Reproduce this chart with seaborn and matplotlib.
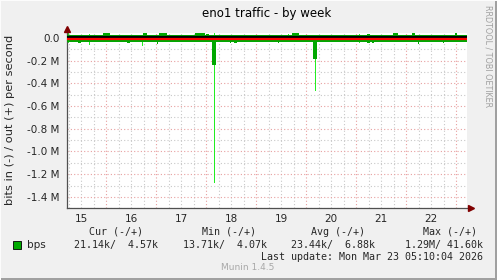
import matplotlib
matplotlib.use("Agg")
import matplotlib.pyplot as plt
import pandas as pd
import seaborn as sns

# ---------------- data ----------------
title = "eno1 traffic - by week"
ylabel = "bits in (-) / out (+) per second"
side_text = "RRDTOOL / TOBI OETIKER"
footer = "Munin 1.4.5"
last_update = "Last update: Mon Mar 23 05:10:04 2026"

day_labels = ["15", "16", "17", "18", "19", "20", "21", "22"]
day_label_pos = [15.5, 16.5, 17.5, 18.5, 19.5, 20.5, 21.5, 22.5]
ytick_vals = [0, -0.2e6, -0.4e6, -0.6e6, -0.8e6, -1.0e6, -1.2e6, -1.4e6]
ytick_labels = ["0.0", "-0.2 M", "-0.4 M", "-0.6 M", "-0.8 M", "-1.0 M", "-1.2 M", "-1.4 M"]
x_start, x_end = 15.215, 23.215   # Mar 15 05:10 .. Mar 23 05:10

# steady traffic band and lines
band_out_top = 24e3
band_in_bottom = -35e3
line_black = 6.88e3
line_red = -9e3

# dark green excursions (average), outgoing (+)
avg_out_day = [16.01, 16.78, 17.14, 17.88, 18.03, 19.79, 21.25, 21.79, 22.15, 22.99]
avg_out_val = [44e3, 44e3, 44e3, 40e3, 35e3, 44e3, 35e3, 50e3, 44e3, 44e3]
avg_out_span = [0.14, 0.08, 0.16, 0.20, 0.06, 0.14, 0.06, 0.10, 0.06, 0.04]

# dark green excursions (average), incoming (-)
avg_in_day = [15.47, 16.44, 17.02, 18.16, 18.48, 18.59, 19.44, 20.18, 21.25, 21.33, 22.24, 22.74]
avg_in_val = [-40e3, -40e3, -53e3, -235e3, -40e3, -40e3, -40e3, -182e3, -44e3, -44e3, -53e3, -40e3]
avg_in_span = [0.06, 0.06, 0.02, 0.08, 0.02, 0.06, 0.02, 0.08, 0.06, 0.04, 0.02, 0.02]

# bright green peaks (maximum)
max_out_day = [15.24, 15.66, 18.16, 19.64, 21.06]
max_out_val = [44e3, 35e3, 44e3, 35e3, 35e3]
max_in_day = [15.24, 15.66, 16.72, 18.16, 20.18, 21.06]
max_in_val = [-44e3, -62e3, -70e3, -1.28e6, -467e3, -40e3]

legend_headers = ["Cur (-/+)", "Min (-/+)", "Avg (-/+)", "Max (-/+)"]
legend_in = ["21.14k", "13.71k", "23.44k", "1.29M"]
legend_out = ["4.57k", "4.07k", "6.88k", "41.60k"]
series_name = "bps"

# ---------------- style ----------------
sns.set_theme(style="white")
plt.rcParams["font.family"] = ["DejaVu Sans"]

W, H = 497, 280
BG = "#F0F0F0"
DARK = "#00A800"
BRIGHT = "#22EE22"

fig = plt.figure(figsize=(W / 100, H / 100), dpi=100)
fig.patch.set_facecolor(BG)

def fx(px):
    return px / W

def fy(py):
    return 1 - py / H

ax = fig.add_axes([fx(67), fy(208), fx(400), (208 - 33) / H])
ax.set_facecolor("white")
ax.set_xlim(x_start, x_end)
ax.set_ylim(-1.498e6, 4.4e4)

# grid lines (drawn manually: red majors, grey minors)
red_grid = "#E8A0A0"
grey_grid = "#C8C8C8"
ls = (0, (1, 2))
d = 15.0
while d <= 23.3:
    if d > x_start and d < x_end:
        is_major = abs(d - round(d)) < 1e-6
        ax.axvline(d, color=red_grid if is_major else grey_grid, lw=0.8, ls=ls, zorder=0)
    d += 0.25
for i in range(0, 16):
    v = -i * 0.1e6
    ax.axhline(v, color=red_grid if i % 2 == 0 else grey_grid, lw=0.8, ls=ls, zorder=0)

# bright peaks (max)
ax.bar(max_in_day, max_in_val, width=0.02, color=BRIGHT, linewidth=0, zorder=2)
ax.bar(max_out_day, max_out_val, width=0.02, color=BRIGHT, linewidth=0, zorder=2)

# steady band
ax.fill_between([x_start, x_end], [band_in_bottom] * 2, [band_out_top] * 2,
                color=DARK, linewidth=0, zorder=3)

# average excursions
ax.bar(avg_in_day, avg_in_val, width=avg_in_span, color=DARK, linewidth=0, zorder=3)
ax.bar(avg_out_day, avg_out_val, width=avg_out_span, color=DARK, linewidth=0, zorder=3)

# black and red lines
lines = pd.DataFrame({
    "x": [x_start, x_end, x_start, x_end],
    "y": [line_black, line_black, line_red, line_red],
    "s": ["black", "black", "red", "red"],
})
sns.lineplot(data=lines, x="x", y="y", hue="s", palette={"black": "#000000", "red": "#FF0000"},
             linewidth=1.6, legend=False, ax=ax, zorder=4)

# axes styling
for s in ["top", "right"]:
    ax.spines[s].set_visible(False)
for s in ["left", "bottom"]:
    ax.spines[s].set_color("#505050")
    ax.spines[s].set_linewidth(0.9)
ax.spines["left"].set_bounds(-1.498e6, 7.5e4)
ax.set_yticks(ytick_vals)
ax.set_yticklabels(ytick_labels)
ax.set_xticks(day_label_pos)
ax.set_xticklabels(day_labels)
ax.tick_params(axis="y", length=2.5, width=0.8, color="#505050", labelsize=7.5, pad=3)
ax.tick_params(axis="x", length=0, labelsize=7.5, pad=4)
ax.set_xlabel("")
ax.set_ylabel("")

# axis arrows
ax.plot([0], [1.0 + 4 / 175], marker="^", markersize=4, color="#800000", transform=ax.transAxes,
        clip_on=False, zorder=6)
ax.plot([1.0 + 4 / 400], [0], marker=">", markersize=4, color="#800000", transform=ax.transAxes,
        clip_on=False, zorder=6)

# texts
fig.text(fx(267), fy(14), title, ha="center", va="center", fontsize=8.5, color="#000000")
fig.text(fx(10), fy(120), ylabel, ha="center", va="center", rotation=90, fontsize=8.2)
fig.text(fx(488), fy(5), side_text, ha="center", va="top", rotation=270, fontsize=5.8,
         color="#A0A0A0")

mono = "DejaVu Sans Mono"
head_right = [143, 256, 365, 477]
val_right = [158, 267, 375, 483]
for h, r in zip(legend_headers, head_right):
    fig.text(fx(r), fy(232), h, ha="right", va="center", fontsize=7.2, family=mono)
for a, b, r in zip(legend_in, legend_out, val_right):
    fig.text(fx(r), fy(245), f"{a}/{b:>7}", ha="right", va="center", fontsize=7.2, family=mono)
fig.text(fx(483), fy(257), last_update, ha="right", va="center", fontsize=7.2, family=mono)
fig.text(fx(27), fy(245), series_name, ha="left", va="center", fontsize=7.5)
fig.patches.append(plt.Rectangle((fx(13), fy(249)), fx(8), 8 / H, transform=fig.transFigure,
                                 facecolor="#00AA00", edgecolor="#000000", linewidth=0.6))
fig.text(fx(248), fy(268), footer, ha="center", va="center", fontsize=6.5, color="#A8A8A8")

# frame border
fig.patches.append(plt.Rectangle((fx(495), 0), fx(2), 1, transform=fig.transFigure,
                                 facecolor="#A0A0A0", edgecolor="none"))
fig.patches.append(plt.Rectangle((0, 0), 1, 2 / H, transform=fig.transFigure,
                                 facecolor="#A0A0A0", edgecolor="none"))
fig.patches.append(plt.Rectangle((0, fy(1)), 1, 1 / H, transform=fig.transFigure,
                                 facecolor="#FCFCFC", edgecolor="none"))
fig.patches.append(plt.Rectangle((0, 0), fx(1), 1, transform=fig.transFigure,
                                 facecolor="#FCFCFC", edgecolor="none"))

fig.savefig("out.png", dpi=100, facecolor=BG)
